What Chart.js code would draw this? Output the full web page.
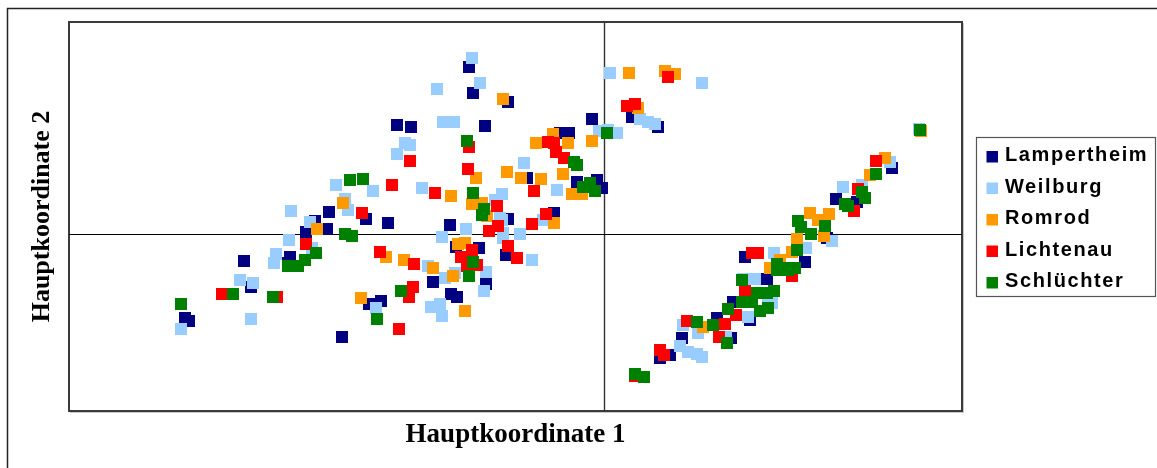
<!DOCTYPE html>
<html>
<head>
<meta charset="utf-8">
<script src="https://cdn.jsdelivr.net/npm/chart.js@4.4.1/dist/chart.umd.min.js"></script>
<style>
  html, body { margin: 0; padding: 0; background: #fff; }
  #wrap { width: 1157px; height: 468px; }
</style>
</head>
<body>
<div id="wrap"><canvas id="pco" width="1157" height="468"></canvas></div>
<script>
// series names and colours (legend order)
const seriesNames = ['Lampertheim', 'Weilburg', 'Romrod', 'Lichtenau', 'Schlüchter'];
const seriesColors = ['#000080', '#99ccff', '#ff9900', '#ff0000', '#008000'];

// axis titles, axis ranges
const xTitle = 'Hauptkoordinate 1';
const yTitle = 'Hauptkoordinate 2';
const xRange = [-0.535, 0.358];
const yRange = [-0.177, 0.212];

// [Hauptkoordinate 1, Hauptkoordinate 2] per individual
const lampertheim = [
  [-0.419, -0.084], [-0.415, -0.087], [-0.360, -0.027], [-0.353, -0.053], [-0.314, -0.023],
  [-0.316, -0.029], [-0.298, 0.002], [-0.289, 0.013], [-0.277, 0.005], [-0.275, 0.022],
  [-0.262, -0.103], [-0.238, 0.015], [-0.216, 0.011], [-0.235, -0.070], [-0.223, -0.067],
  [-0.207, 0.109], [-0.193, 0.107], [-0.135, 0.167], [-0.131, 0.141], [-0.096, 0.132],
  [-0.119, 0.108], [-0.012, 0.115], [-0.044, 0.101], [-0.035, 0.101], [-0.077, 0.056],
  [-0.027, 0.052], [-0.007, 0.054], [-0.002, 0.046], [-0.154, 0.009], [-0.148, -0.013],
  [-0.125, -0.014], [-0.171, -0.048], [-0.118, -0.050], [-0.153, -0.060], [-0.147, -0.063],
  [-0.098, -0.021], [-0.096, 0.015], [-0.050, 0.021], [0.028, 0.117], [0.054, 0.107],
  [0.288, 0.066], [0.232, 0.035], [0.253, 0.032], [0.223, -0.004], [0.201, -0.028],
  [0.141, -0.023], [0.163, -0.045], [0.129, -0.068], [0.146, -0.086], [0.113, -0.084],
  [0.127, -0.104], [0.078, -0.104], [0.066, -0.121], [0.056, -0.124]
];
const weilburg = [
  [-0.423, -0.095], [-0.353, -0.085], [-0.364, -0.046], [-0.351, -0.049], [-0.315, -0.006],
  [-0.328, -0.020], [-0.330, -0.029], [-0.292, -0.014], [-0.294, 0.012], [-0.313, 0.023],
  [-0.268, 0.049], [-0.259, 0.035], [-0.256, 0.024], [-0.231, 0.043], [-0.182, 0.046],
  [-0.207, 0.080], [-0.199, 0.091], [-0.194, 0.089], [-0.161, 0.112], [-0.150, 0.112],
  [-0.167, 0.145], [-0.132, 0.176], [-0.124, 0.151], [-0.080, 0.071], [-0.047, 0.044],
  [-0.109, 0.034], [-0.102, 0.040], [-0.102, 0.014], [-0.101, 0.001], [-0.084, 0.000],
  [-0.138, 0.005], [-0.162, -0.003], [-0.061, 0.014], [-0.104, 0.016], [-0.101, -0.004],
  [-0.176, -0.032], [-0.159, -0.044], [-0.149, -0.039], [-0.118, -0.038], [-0.120, -0.057],
  [-0.173, -0.073], [-0.164, -0.070], [-0.162, -0.082], [-0.228, -0.074], [-0.072, -0.026],
  [-0.005, 0.103], [0.004, 0.104], [0.013, 0.101], [0.006, 0.161], [0.036, 0.115],
  [0.044, 0.112], [0.051, 0.110], [0.098, 0.151], [0.315, 0.105], [0.286, 0.072],
  [0.239, 0.047], [0.258, 0.049], [0.228, -0.007], [0.202, -0.014], [0.170, -0.019],
  [0.151, -0.045], [0.139, -0.045], [0.144, -0.083], [0.164, -0.071], [0.168, -0.069],
  [0.122, -0.103], [0.094, -0.099], [0.079, -0.091], [0.076, -0.112], [0.084, -0.118],
  [0.093, -0.120], [0.098, -0.123]
];
const romrod = [
  [-0.261, 0.031], [-0.287, 0.005], [-0.243, -0.064], [-0.218, -0.023], [-0.200, -0.026],
  [-0.171, -0.034], [-0.151, -0.042], [-0.146, -0.010], [-0.139, -0.009], [-0.139, -0.077],
  [-0.050, 0.011], [-0.128, 0.056], [-0.153, 0.038], [-0.132, 0.030], [-0.122, 0.031],
  [-0.117, 0.018], [-0.097, 0.062], [-0.083, 0.056], [-0.063, 0.055], [-0.041, 0.060],
  [-0.032, 0.040], [-0.022, 0.040], [-0.101, 0.135], [-0.068, 0.091], [-0.051, 0.100],
  [-0.036, 0.091], [-0.012, 0.093], [0.025, 0.161], [0.061, 0.163], [0.071, 0.160],
  [0.034, 0.126], [0.317, 0.103], [0.281, 0.076], [0.266, 0.059], [0.206, 0.021],
  [0.225, 0.020], [0.214, 0.014], [0.220, -0.002], [0.193, -0.005], [0.188, -0.018],
  [0.166, -0.034], [0.176, -0.026], [0.099, -0.093]
];
const lichtenau = [
  [-0.382, -0.060], [-0.327, -0.063], [-0.298, -0.010], [-0.242, 0.021], [-0.212, 0.049],
  [-0.194, 0.073], [-0.169, 0.041], [-0.135, 0.087], [-0.136, 0.065], [-0.224, -0.018],
  [-0.190, -0.030], [-0.191, -0.053], [-0.195, -0.063], [-0.205, -0.095], [-0.143, -0.023],
  [-0.132, -0.016], [-0.127, -0.031], [-0.137, -0.032], [-0.115, 0.003], [-0.106, 0.008],
  [-0.107, 0.028], [-0.096, -0.012], [-0.087, -0.024], [-0.072, 0.010], [-0.058, 0.020],
  [-0.070, 0.043], [-0.056, 0.092], [-0.050, 0.091], [-0.048, 0.082], [-0.040, 0.076],
  [0.023, 0.128], [0.031, 0.130], [0.064, 0.157], [0.272, 0.073], [0.254, 0.045],
  [0.250, 0.023], [0.148, -0.019], [0.154, -0.019], [0.188, -0.042], [0.141, -0.057],
  [0.132, -0.081], [0.121, -0.090], [0.083, -0.087], [0.115, -0.103], [0.056, -0.116],
  [0.060, -0.121], [0.031, -0.142]
];
const schluechter = [
  [-0.423, -0.070], [-0.371, -0.060], [-0.331, -0.063], [-0.316, -0.032], [-0.306, -0.032],
  [-0.299, -0.026], [-0.288, -0.019], [-0.259, 0.000], [-0.252, -0.002], [-0.254, 0.054],
  [-0.241, 0.055], [-0.227, -0.085], [-0.203, -0.057], [-0.137, 0.093], [-0.131, 0.041],
  [-0.120, 0.025], [-0.122, 0.019], [-0.131, -0.028], [-0.135, -0.042], [-0.030, 0.072],
  [-0.027, 0.069], [-0.021, 0.047], [-0.014, 0.051], [-0.009, 0.043], [0.003, 0.101],
  [0.316, 0.104], [0.272, 0.060], [0.258, 0.042], [0.261, 0.036], [0.241, 0.030],
  [0.244, 0.028], [0.194, 0.013], [0.197, 0.007], [0.221, 0.008], [0.207, 0.000],
  [0.193, -0.016], [0.173, -0.030], [0.173, -0.036], [0.184, -0.036], [0.191, -0.034],
  [0.179, -0.034], [0.138, -0.046], [0.153, -0.059], [0.163, -0.059], [0.170, -0.057],
  [0.138, -0.068], [0.148, -0.068], [0.156, -0.077], [0.164, -0.074], [0.124, -0.075],
  [0.109, -0.091], [0.093, -0.088], [0.123, -0.109], [0.031, -0.140], [0.040, -0.143]
];

const seriesData = [lampertheim, weilburg, romrod, lichtenau, schluechter];

// frame, zero axes and boxed legend like the old Excel chart
const excelLook = {
  id: 'excelLook',
  beforeDatasetsDraw(chart) {
    const {ctx, chartArea: a, scales: {x, y}} = chart;
    ctx.save();
    // plot frame
    ctx.strokeStyle = '#c8c8c8';
    ctx.lineWidth = 1;
    ctx.beginPath();
    ctx.moveTo(a.right + 1.5, a.top + 1);
    ctx.lineTo(a.right + 1.5, a.bottom + 1.5);
    ctx.lineTo(a.left + 1, a.bottom + 1.5);
    ctx.stroke();
    ctx.strokeStyle = '#3a3a3a';
    ctx.lineWidth = 2;
    ctx.strokeRect(a.left, a.top, a.right - a.left, a.bottom - a.top);
    // zero lines
    const x0 = Math.round(x.getPixelForValue(0)) + 0.5;
    const y0 = Math.round(y.getPixelForValue(0)) + 0.5;
    ctx.strokeStyle = '#333';
    ctx.lineWidth = 1.4;
    ctx.beginPath();
    ctx.moveTo(x0, a.top);
    ctx.lineTo(x0, a.bottom);
    ctx.stroke();
    ctx.strokeStyle = '#000';
    ctx.lineWidth = 1;
    ctx.beginPath();
    ctx.moveTo(a.left, y0);
    ctx.lineTo(a.right, y0);
    ctx.stroke();
    ctx.restore();
  },
  afterDraw(chart) {
    const ctx = chart.ctx;
    ctx.save();
    // outer border of the figure
    ctx.strokeStyle = '#222';
    ctx.lineWidth = 1.5;
    ctx.strokeRect(7.5, 8.5, 1200, 500);
    // legend box
    ctx.strokeStyle = '#555';
    ctx.lineWidth = 1.2;
    ctx.strokeRect(976.5, 137.5, 179, 159);
    ctx.font = 'bold 20px "Liberation Sans", Arial, sans-serif';
    ctx.letterSpacing = '1.6px';
    ctx.textBaseline = 'middle';
    chart.data.datasets.forEach((ds, i) => {
      const cy = 156.5 + i * 31.5;
      ctx.fillStyle = ds.backgroundColor;
      ctx.fillRect(986.5, cy - 5.5, 11.5, 11.5);
      ctx.fillStyle = '#000';
      ctx.fillText(ds.label, 1005, cy - 1);
    });
    ctx.restore();
  }
};

const titleFamily = '"Liberation Serif", "Times New Roman", serif';

new Chart(document.getElementById('pco').getContext('2d'), {
  type: 'scatter',
  data: {
    datasets: seriesNames.map((name, i) => ({
      label: name,
      data: seriesData[i].map(p => ({ x: p[0], y: p[1] })),
      backgroundColor: seriesColors[i],
      borderColor: seriesColors[i],
      borderWidth: 0,
      pointStyle: 'rect',
      pointRadius: 8.5,
      pointHoverRadius: 8.5,
      order: seriesNames.length - i
    }))
  },
  options: {
    responsive: false,
    devicePixelRatio: 1,
    animation: false,
    layout: { padding: { left: 0, top: 22, right: 195, bottom: 0 } },
    plugins: {
      legend: { display: false },
      tooltip: { enabled: false }
    },
    scales: {
      x: {
        type: 'linear',
        min: xRange[0],
        max: xRange[1],
        ticks: { display: false },
        grid: { display: false },
        border: { display: false },
        title: { display: true, text: xTitle, color: '#000', font: { family: titleFamily, size: 27, weight: 'bold' }, padding: { top: 0, bottom: 17 } },
        afterFit(scale) { scale.height = 57; }
      },
      y: {
        type: 'linear',
        min: yRange[0],
        max: yRange[1],
        ticks: { display: false },
        grid: { display: false },
        border: { display: false },
        title: { display: true, text: yTitle, color: '#000', font: { family: titleFamily, size: 26, weight: 'bold' }, padding: { top: 27, bottom: 0 } },
        afterFit(scale) { scale.width = 69; }
      }
    }
  },
  plugins: [excelLook]
});
</script>
</body>
</html>
